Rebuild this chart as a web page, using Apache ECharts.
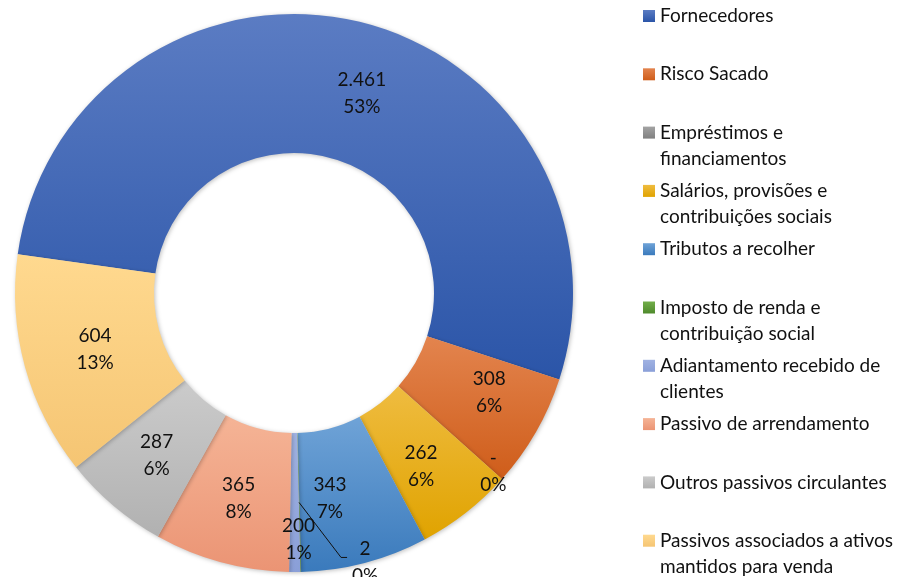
<!DOCTYPE html>
<html>
<head>
<meta charset="utf-8">
<script src="https://cdn.jsdelivr.net/npm/echarts@6/dist/echarts.min.js"></script>
<style>
  html, body { margin: 0; padding: 0; background: #fff; }
  #chart { width: 907px; height: 577px; }
</style>
</head>
<body>
<div id="chart"></div>
<script>
// data
const categories = [
  'Fornecedores', 'Risco Sacado', 'Empréstimos e financiamentos',
  'Salários, provisões e contribuições sociais', 'Tributos a recolher',
  'Imposto de renda e contribuição social', 'Adiantamento recebido de clientes',
  'Passivo de arrendamento', 'Outros passivos circulantes',
  'Passivos associados a ativos mantidos para venda'
];
const values = [2461, 308, 0, 262, 343, 2, 30, 365, 287, 604];
const valueLabels = ['2.461', '308', '-', '262', '343', '2', '200', '365', '287', '604'];
const percentLabels = ['53%', '6%', '0%', '6%', '7%', '0%', '1%', '8%', '6%', '13%'];
const legendLines = [
  ['Fornecedores'], ['Risco Sacado'], ['Empréstimos e', 'financiamentos'],
  ['Salários, provisões e', 'contribuições sociais'], ['Tributos a recolher'],
  ['Imposto de renda e', 'contribuição social'], ['Adiantamento recebido de', 'clientes'],
  ['Passivo de arrendamento'], ['Outros passivos circulantes'],
  ['Passivos associados a ativos', 'mantidos para venda']
];

// colours: top -> bottom of each slice
const colors = [
  ['#5b7cc3', '#2b55a8'], ['#e3844e', '#cf5d1a'], ['#a3a3a3', '#808080'],
  ['#efbc40', '#e0a300'], ['#6fa3d7', '#3a7abc'], ['#72ae4a', '#4f8a2c'],
  ['#a0b2e2', '#8a9fd8'], ['#f5b496', '#eb9474'], ['#cbcbcb', '#b1b1b1'],
  ['#ffd98f', '#f5c573']
];

// label nudges (px) and the one with a leader line
const labelOffsets = [[20, 7], [11, -7], [41, 37], [-4, 6], [-18, 0], [66, 57], [4, 34], [0, 0], [0, 0], [6, 0]];
const leaderIndex = 5;

const CX = 294, CY = 293, R = 279, R0 = 140;
const START = 172;
const FONT = 'Lato';

function grad(c) {
  return new echarts.graphic.LinearGradient(0, 0, 0, 1, [
    { offset: 0, color: c[0] }, { offset: 1, color: c[1] }
  ]);
}

// where the inside label of slice i sits (mid angle, mid radius)
function labelAnchor(i) {
  const total = values.reduce((a, b) => a + b, 0);
  let before = 0;
  for (let k = 0; k < i; k++) before += values[k];
  const a = (START - (before + values[i] / 2) / total * 360) * Math.PI / 180;
  const rm = (R0 + R) / 2;
  return [CX + rm * Math.cos(a), CY - rm * Math.sin(a)];
}

const anc = labelAnchor(leaderIndex);
const lx = anc[0] + labelOffsets[leaderIndex][0];
const ly = anc[1] + labelOffsets[leaderIndex][1];

const chart = echarts.init(document.getElementById('chart'), null, { renderer: 'canvas' });

chart.setOption({
  animation: false,
  legend: {
    orient: 'vertical',
    left: 643,
    top: -23,
    height: 900,
    padding: 0,
    itemGap: -19.7,
    itemWidth: 12,
    itemHeight: 12,
    icon: 'rect',
    selectedMode: false,
    data: categories,
    formatter: function (name) {
      const l = legendLines[categories.indexOf(name)];
      return ' \n' + l[0] + '\n' + (l[1] || ' ');
    },
    textStyle: {
      fontFamily: FONT,
      fontSize: 19,
      lineHeight: 26,
      color: '#111'
    }
  },
  graphic: [{
    type: 'polyline',
    silent: true,
    z: 10,
    shape: { points: [anc, [lx - 24, ly - 2], [lx - 18, ly - 2]] },
    style: { stroke: '#111', lineWidth: 1, fill: null }
  }],
  series: [{
    type: 'pie',
    center: [CX, CY],
    radius: [R0, R],
    startAngle: START,
    clockwise: true,
    avoidLabelOverlap: false,
    silent: true,
    itemStyle: {
      borderWidth: 0,
      shadowBlur: 4,
      shadowOffsetX: 1,
      shadowOffsetY: 1,
      shadowColor: 'rgba(0,0,0,0.25)'
    },
    label: {
      show: true,
      position: 'inside',
      fontFamily: FONT,
      fontSize: 19,
      lineHeight: 27,
      color: '#111',
      formatter: function (p) {
        return valueLabels[p.dataIndex] + '\n' + percentLabels[p.dataIndex];
      }
    },
    labelLine: { show: false },
    labelLayout: function (p) {
      const off = labelOffsets[p.dataIndex];
      return { dx: off[0], dy: off[1] };
    },
    data: categories.map((name, i) => ({
      name: name,
      value: values[i],
      itemStyle: { color: grad(colors[i]) }
    }))
  }]
});
</script>
</body>
</html>
